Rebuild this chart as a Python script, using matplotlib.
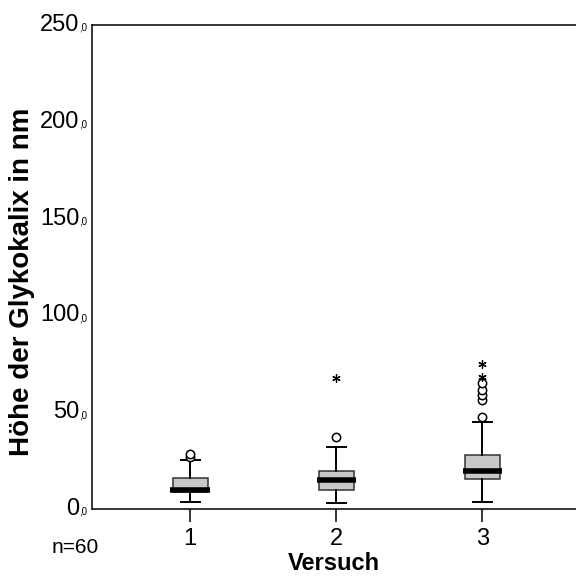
import numpy as np
import matplotlib.pyplot as plt

plt.rcParams['font.family'] = ['Liberation Sans', 'DejaVu Sans']

# Werte
versuche = [1, 2, 3]
median = [9.8, 15.0, 19.8]
q1 = [9.0, 9.8, 15.3]
q3 = [16.0, 19.8, 27.9]
whis_lo = [3.8, 2.9, 3.8]
whis_hi = [25.3, 32.2, 45.0]
ausreisser = [[27.0, 28.2], [37.0], [47.7, 56.3, 58.9, 61.5, 65.0]]
extreme = [[], [67.5], [68.3, 74.9]]

fig = plt.figure(figsize=(5.76, 5.76), dpi=100)
ax = fig.add_axes([0.16, 0.1163, 0.84, 0.8403])

stats = []
for i in range(3):
    stats.append({'med': median[i], 'q1': q1[i], 'q3': q3[i],
                  'whislo': whis_lo[i], 'whishi': whis_hi[i], 'fliers': []})

ax.bxp(stats, positions=versuche, widths=0.24, patch_artist=True,
       showfliers=False,
       boxprops=dict(facecolor='#c8c8c8', edgecolor='#333333', linewidth=1.1),
       medianprops=dict(color='black', linewidth=0),
       whiskerprops=dict(color='black', linewidth=1.4),
       capprops=dict(color='black', linewidth=1.4), capwidths=0.13)

# dicker Medianbalken
for i in range(3):
    ax.plot([versuche[i] - 0.135, versuche[i] + 0.135], [median[i]] * 2,
            color='black', linewidth=4, solid_capstyle='butt', zorder=5)
    if ausreisser[i]:
        ax.plot([versuche[i]] * len(ausreisser[i]), ausreisser[i], 'o',
                mfc='white', mec='black', ms=6, mew=1.1, zorder=6)
    if extreme[i]:
        ax.plot([versuche[i]] * len(extreme[i]), extreme[i], marker=(6, 2, 0),
                ls='none', color='black', ms=6, mew=0.9, zorder=6)

ax.set_xlim(0.33, 3.64)
ax.set_ylim(0, 250)
ax.spines['right'].set_visible(False)
for s in ['left', 'top', 'bottom']:
    ax.spines[s].set_linewidth(1.1)

ax.set_xticks(versuche)
ax.set_xticklabels(['1', '2', '3'], fontsize=17)
ax.tick_params(axis='x', direction='out', length=9, width=1.1, pad=5)

yt = [0, 50, 100, 150, 200, 250]
ax.set_yticks(yt)
ax.set_yticklabels([])
ax.tick_params(axis='y', length=0)
for v in yt:
    ax.text(-0.026, v, str(v), transform=ax.get_yaxis_transform(),
            ha='right', va='center', fontsize=17)
    ax.text(-0.026, v - 1.5, ',0', transform=ax.get_yaxis_transform(),
            ha='left', va='center', fontsize=7)

ax.set_ylabel('Höhe der Glykokalix in nm', fontsize=20, fontweight='bold',
              va='center')
ax.yaxis.set_label_coords(-0.145, 0.47)
ax.set_xlabel('Versuch', fontsize=17, fontweight='bold', labelpad=1)
fig.text(0.09, 0.05, 'n=60', fontsize=15, ha='left', va='center')

fig.savefig('out.png', dpi=100)
